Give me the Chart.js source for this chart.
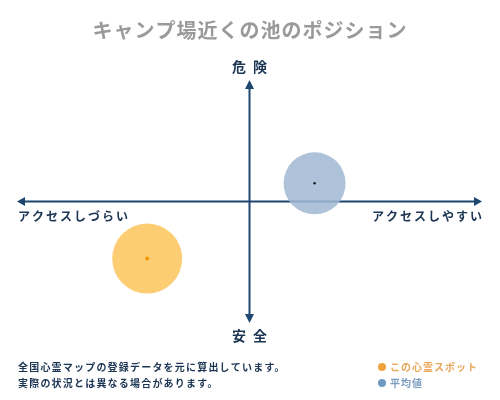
<!DOCTYPE html>
<html><head><meta charset="utf-8">
<script src="https://cdn.jsdelivr.net/npm/chart.js@4.4.1/dist/chart.umd.min.js"></script>
<style>html,body{margin:0;padding:0;background:#fff;}#wrap{width:500px;height:400px;}</style>
</head><body><div id="wrap"><canvas id="c" width="500" height="400"></canvas></div>
<script>
const title = 'キャンプ場近くの池のポジション';
const axisLabels = { top: '危 険', bottom: '安 全', left: 'アクセスしづらい', right: 'アクセスしやすい' };
const seriesNames = ['この心霊スポット', '平均値'];
const spotX = [-44];
const spotY = [-47];
const avgX = [28];
const avgY = [15];
const notes = ['全国心霊マップの登録データを元に算出しています。', '実際の状況とは異なる場合があります。'];

const NAVY = '#1d4671';
const TEXT = '#1c3553';

const overlay = {
  id: 'overlay',
  beforeDatasetsDraw(chart) {
    const ctx = chart.ctx, x = chart.scales.x, y = chart.scales.y;
    const x0 = x.getPixelForValue(0), y0 = y.getPixelForValue(0);
    const L = x.left, R = x.right, T = y.top, B = y.bottom;
    ctx.save();
    ctx.strokeStyle = NAVY; ctx.fillStyle = NAVY; ctx.lineWidth = 2;
    ctx.beginPath(); ctx.moveTo(L + 4, y0); ctx.lineTo(R - 4, y0); ctx.stroke();
    ctx.beginPath(); ctx.moveTo(x0, T + 4); ctx.lineTo(x0, B - 4); ctx.stroke();
    const tri = (pts) => { ctx.beginPath(); ctx.moveTo(pts[0], pts[1]); ctx.lineTo(pts[2], pts[3]); ctx.lineTo(pts[4], pts[5]); ctx.closePath(); ctx.fill(); };
    tri([L, y0, L + 8, y0 - 4.5, L + 8, y0 + 4.5]);
    tri([R, y0, R - 8, y0 - 4.5, R - 8, y0 + 4.5]);
    tri([x0, T, x0 - 4.5, T + 9, x0 + 4.5, T + 9]);
    tri([x0, B, x0 - 4.5, B - 9, x0 + 4.5, B - 9]);
    ctx.restore();
  },
  afterDraw(chart) {
    const ctx = chart.ctx, x = chart.scales.x, y = chart.scales.y;
    const x0 = x.getPixelForValue(0), y0 = y.getPixelForValue(0);
    ctx.save();
    ctx.textBaseline = 'middle';
    // title
    ctx.font = 'bold 20px "Noto Sans CJK JP"';
    ctx.fillStyle = '#9a9a9a';
    ctx.letterSpacing = '1px';
    ctx.textAlign = 'center';
    ctx.fillText(title, 250, 30);
    // axis labels
    ctx.fillStyle = TEXT;
    ctx.font = 'bold 14px "Noto Sans CJK JP"';
    ctx.letterSpacing = '2px';
    ctx.fillText(axisLabels.top, x0 + 1, 67);
    ctx.fillText(axisLabels.bottom, x0 + 1, 336);
    ctx.font = 'bold 12px "Noto Sans CJK JP"';
    ctx.letterSpacing = '2px';
    ctx.textAlign = 'left';
    ctx.fillText(axisLabels.left, x.left + 1, y0 + 15);
    ctx.textAlign = 'right';
    ctx.fillText(axisLabels.right, x.right + 2, y0 + 15);
    // notes
    ctx.textAlign = 'left';
    ctx.font = 'bold 10px "Noto Sans CJK JP"';
    ctx.letterSpacing = '1.2px';
    ctx.fillText(notes[0], 18, 367);
    ctx.fillText(notes[1], 18, 383);
    // legend
    ctx.letterSpacing = '1px';
    ctx.fillStyle = '#f0a23c';
    ctx.beginPath(); ctx.arc(382, 367, 4, 0, Math.PI * 2); ctx.fill();
    ctx.fillStyle = '#e9a75a';
    ctx.fillText(seriesNames[0], 390, 367);
    ctx.fillStyle = '#6f9bc3';
    ctx.beginPath(); ctx.arc(382, 383, 4, 0, Math.PI * 2); ctx.fill();
    ctx.fillStyle = '#7c9dc0';
    ctx.fillText(seriesNames[1], 390, 383);
    ctx.restore();
  }
};

new Chart(document.getElementById('c'), {
  type: 'bubble',
  data: {
    datasets: [
      { label: seriesNames[0], order: 2, data: spotX.map((v, i) => ({ x: v, y: spotY[i], r: 35 })), backgroundColor: 'rgba(253,196,92,0.85)', borderWidth: 0 },
      { label: seriesNames[1], order: 2, data: avgX.map((v, i) => ({ x: v, y: avgY[i], r: 31 })), backgroundColor: 'rgba(160,183,210,0.85)', borderWidth: 0 },
      { label: 'c1', order: 0, data: spotX.map((v, i) => ({ x: v, y: spotY[i], r: 2 })), backgroundColor: '#f39500', borderWidth: 0 },
      { label: 'c2', order: 0, data: avgX.map((v, i) => ({ x: v, y: avgY[i], r: 1.2 })), backgroundColor: '#101820', borderWidth: 0 }
    ]
  },
  options: {
    responsive: false,
    animation: false,
    layout: { autoPadding: false, padding: { left: 17, right: 18, top: 80, bottom: 77 } },
    scales: {
      x: { display: false, min: -100, max: 100 },
      y: { display: false, min: -100, max: 100 }
    },
    plugins: { legend: { display: false }, tooltip: { enabled: false }, title: { display: false } }
  },
  plugins: [overlay]
});
</script></body></html>
